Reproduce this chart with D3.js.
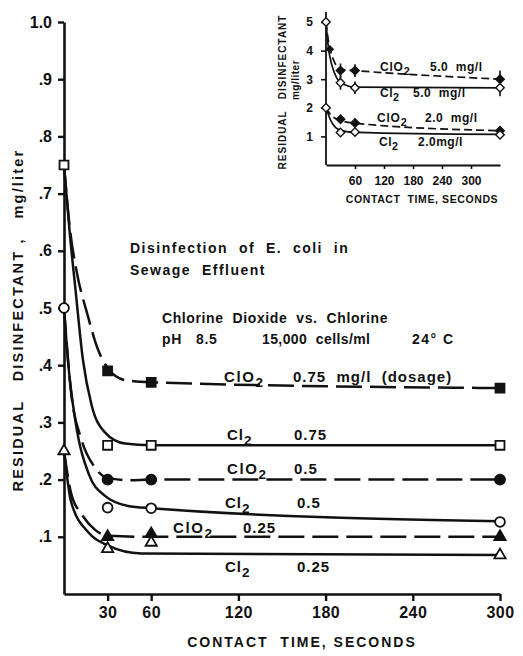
<!DOCTYPE html>
<html>
<head>
<meta charset="utf-8">
<script src="https://cdn.jsdelivr.net/npm/d3@7/dist/d3.min.js"></script>
<style>
  body { margin: 0; background: #fff; }
  svg text { font-family: 'Liberation Sans', Arial, sans-serif; font-weight: bold; fill: #111; white-space: pre; }
</style>
</head>
<body>
<div id="chart"></div>
<script>
// ---- main chart data ----
const yTicks = [0.1, 0.2, 0.3, 0.4, 0.5, 0.6, 0.7, 0.8, 0.9, 1.0];
const yTickLabels = [".1", ".2", ".3", ".4", ".5", ".6", ".7", ".8", ".9", "1.0"];
const xTicks = [30, 60, 120, 180, 240, 300];

// starting dosages, plotted at t = 0 (open markers)
const doses = [0.75, 0.5, 0.25];

// measured points at 30, 60, 300 s
const markTimes = [30, 60, 300];
const clo2_075Marks = [0.39, 0.37, 0.36];
const cl2_075Marks = [0.26, 0.26, 0.26];
const clo2_05Marks = [0.2, 0.2, 0.2];
const cl2_05Marks = [0.151, 0.15, 0.126];
const clo2_025Marks = [0.1, 0.105, 0.1];
const cl2_025Marks = [0.079, 0.09, 0.068];

// hand-fitted curves [time, mg/l]
const clo2_075Fit = [[0, 0.75], [4, 0.64], [9, 0.56], [16, 0.49], [23, 0.43], [30, 0.395], [42, 0.374], [60, 0.37], [300, 0.36]];
const cl2_075Fit = [[0, 0.75], [4, 0.63], [8, 0.53], [13, 0.41], [19, 0.33], [28, 0.283], [42, 0.263], [60, 0.26], [300, 0.26]];
const clo2_05Fit = [[0, 0.5], [5, 0.35], [12, 0.27], [21, 0.222], [30, 0.203], [45, 0.199], [60, 0.2], [300, 0.2]];
const cl2_05Fit = [[0, 0.5], [3, 0.4], [8, 0.3], [17, 0.21], [28, 0.172], [44, 0.154], [60, 0.15], [300, 0.127]];
const clo2_025Fit = [[0, 0.25], [5, 0.175], [12, 0.14], [21, 0.113], [30, 0.102], [60, 0.1], [300, 0.1]];
const cl2_025Fit = [[0, 0.25], [5, 0.16], [17, 0.107], [30, 0.085], [53, 0.071], [300, 0.068]];

// ---- inset data ----
const insetYTicks = [1, 2, 3, 4, 5];
const insetXTicks = [60, 120, 180, 240, 300];
const insetDoses = [5, 2];
const insetTimes = [30, 60, 360];
const clo2_5Marks = [3.3, 3.3, 3.0];
const cl2_5Marks = [2.88, 2.7, 2.7];
const clo2_2Marks = [1.6, 1.47, 1.2];
const cl2_2Marks = [1.14, 1.15, 1.06];
const err5 = [0.25, 0.22, 0.3];
const clo2_5Early = [[8, 4.05]];

const clo2_5Fit = [[0, 5], [4, 4.45], [9, 4.02], [18, 3.58], [30, 3.34], [60, 3.3], [360, 3.0]];
const cl2_5Fit = [[0, 5], [5, 4.1], [12, 3.5], [22, 3.05], [36, 2.82], [60, 2.72], [360, 2.7]];
const clo2_2Fit = [[0, 2], [10, 1.75], [30, 1.56], [60, 1.46], [360, 1.2]];
const cl2_2Fit = [[0, 2], [10, 1.55], [25, 1.25], [45, 1.16], [60, 1.14], [360, 1.07]];

const W = 523, H = 656;
const svg = d3.select("#chart").append("svg")
    .attr("width", W)
    .attr("height", H);
svg.append("rect").attr("width", W).attr("height", H).attr("fill", "#fff");

// scales
const x = d3.scaleLinear().domain([0, 300]).range([64, 500]);
const y = d3.scaleLinear().domain([0, 1]).range([594, 22]);

// axes
const yAxis = d3.axisLeft(y)
    .tickValues(yTicks)
    .tickFormat((d, i) => yTickLabels[i])
    .tickSize(6)
    .tickSizeOuter(0)
    .tickPadding(6);
const gy = svg.append("g")
    .attr("transform", "translate(" + x(0) + ",0)")
    .call(yAxis);

const xAxis = d3.axisBottom(x)
    .tickValues(xTicks)
    .tickSize(7)
    .tickSizeOuter(0)
    .tickPadding(6);
const gx = svg.append("g")
    .attr("transform", "translate(0," + y(0) + ")")
    .call(xAxis);

[gx, gy].forEach(g => {
    g.select(".domain").attr("stroke", "#111").attr("stroke-width", 2.6);
    g.selectAll(".tick line").attr("stroke", "#111").attr("stroke-width", 2.4);
    g.selectAll(".tick text").attr("fill", "#111")
        .style("font-size", "16px").style("font-family", "'Liberation Sans', Arial, sans-serif")
        .style("font-weight", "bold");
});
gx.selectAll(".tick text").style("letter-spacing", "0.5px");

// axis titles
svg.append("text")
    .attr("x", 302)
    .attr("y", 647)
    .attr("text-anchor", "middle")
    .style("font-size", "14px")
    .style("letter-spacing", "2px")
    .text("CONTACT  TIME, SECONDS");

svg.append("text")
    .attr("transform", "translate(23,320) rotate(-90)")
    .attr("text-anchor", "middle")
    .style("font-size", "14.5px")
    .style("letter-spacing", "2.2px")
    .text("RESIDUAL   DISINFECTANT ,   mg/liter");

// curves
const line = d3.line()
    .x(d => x(d[0]))
    .y(d => y(d[1]))
    .curve(d3.curveMonotoneX);

const mainCurves = [
    { fit: clo2_075Fit, dashed: true },
    { fit: cl2_075Fit, dashed: false },
    { fit: clo2_05Fit, dashed: true },
    { fit: cl2_05Fit, dashed: false },
    { fit: clo2_025Fit, dashed: true },
    { fit: cl2_025Fit, dashed: false }
];
svg.append("g").selectAll("path")
    .data(mainCurves)
    .enter().append("path")
    .attr("d", d => line(d.fit))
    .attr("fill", "none")
    .attr("stroke", "#111")
    .attr("stroke-width", 2.5)
    .attr("stroke-dasharray", d => d.dashed ? "26,8" : null);

// markers
const mainMarks = [
    { vals: clo2_075Marks, type: d3.symbolSquare, size: 80, filled: true },
    { vals: cl2_075Marks, type: d3.symbolSquare, size: 80, filled: false },
    { vals: clo2_05Marks, type: d3.symbolCircle, size: 80, filled: true },
    { vals: cl2_05Marks, type: d3.symbolCircle, size: 75, filled: false },
    { vals: clo2_025Marks, type: d3.symbolTriangle, size: 55, filled: true },
    { vals: cl2_025Marks, type: d3.symbolTriangle, size: 55, filled: false }
];
const startMarks = [
    { v: doses[0], type: d3.symbolSquare, size: 80 },
    { v: doses[1], type: d3.symbolCircle, size: 75 },
    { v: doses[2], type: d3.symbolTriangle, size: 55 }
];

const gm = svg.append("g");
mainMarks.forEach(s => {
    gm.selectAll(null)
        .data(s.vals)
        .enter().append("path")
        .attr("transform", (d, i) => "translate(" + x(markTimes[i]) + "," + y(d) + ")")
        .attr("d", d3.symbol().type(s.type).size(s.size))
        .attr("fill", s.filled ? "#111" : "#fff")
        .attr("stroke", "#111")
        .attr("stroke-width", 1.8);
});
gm.selectAll(null)
    .data(startMarks)
    .enter().append("path")
    .attr("transform", d => "translate(" + x(0) + "," + y(d.v) + ")")
    .attr("d", d => d3.symbol().type(d.type).size(d.size)())
    .attr("fill", "#fff")
    .attr("stroke", "#111")
    .attr("stroke-width", 1.8);

// curve labels, with subscripts
function chemLabel(g, px, py, base, sub, size, ls) {
    const t = g.append("text").attr("x", px).attr("y", py)
        .style("font-size", size + "px").style("letter-spacing", (ls || 1) + "px");
    t.append("tspan").text(base);
    t.append("tspan").attr("dy", size * 0.3).style("font-size", (size * 0.9) + "px").text(sub);
    return t;
}
function plain(g, px, py, str, size, ls) {
    return g.append("text").attr("x", px).attr("y", py)
        .style("font-size", size + "px").style("letter-spacing", (ls || 1) + "px").text(str);
}

const gl = svg.append("g");
chemLabel(gl, 224, 382, "ClO", "2", 15, 1.6);
plain(gl, 293, 382, "0.75  mg/l  (dosage)", 15, 1);
chemLabel(gl, 227, 440, "Cl", "2", 15, 1);
plain(gl, 294, 440, "0.75", 15, 1);
chemLabel(gl, 227, 474, "ClO", "2", 15, 1.6);
plain(gl, 294, 474, "0.5", 15, 1);
chemLabel(gl, 225, 508, "Cl", "2", 15, 1);
plain(gl, 297, 508, "0.5", 15, 1);
chemLabel(gl, 173, 533, "ClO", "2", 15, 1.6);
plain(gl, 243, 533, "0.25", 15, 1);
chemLabel(gl, 225, 572, "Cl", "2", 15, 1);
plain(gl, 297, 572, "0.25", 15, 1);

// description block
plain(gl, 130, 253, "Disinfection  of  E.  coli  in", 14, 1.5);
plain(gl, 130, 275, "Sewage  Effluent", 14, 1.5);
plain(gl, 162, 323, "Chlorine  Dioxide  vs.  Chlorine", 14, 0.6);
plain(gl, 162, 344, "pH", 14, 0.6);
plain(gl, 196, 344, "8.5", 14, 0.6);
plain(gl, 262, 344, "15,000  cells/ml", 14, 0.4);
plain(gl, 412, 344, "24° C", 14, 1.5);

// ---- inset ----
const xi = d3.scaleLinear().domain([0, 360]).range([326, 500]);
const yi = d3.scaleLinear().domain([0, 5]).range([165, 22]);
const gi = svg.append("g");

const giy = gi.append("g")
    .attr("transform", "translate(" + xi(0) + ",0)")
    .call(d3.axisLeft(yi).tickValues(insetYTicks).tickFormat(d3.format("d"))
        .tickSize(5).tickSizeOuter(0).tickPadding(8));
// y axis line reaches just above the top point
giy.select(".domain").attr("d", "M0," + yi(0) + "V" + yi(5.35));
const gix = gi.append("g")
    .attr("transform", "translate(0," + yi(0) + ")")
    .call(d3.axisBottom(xi).tickValues(insetXTicks).tickFormat(d3.format("d"))
        .tickSize(4).tickSizeOuter(0).tickPadding(7));
[gix, giy].forEach(g => {
    g.select(".domain").attr("stroke", "#111").attr("stroke-width", 1.8);
    g.selectAll(".tick line").attr("stroke", "#111").attr("stroke-width", 1.6);
    g.selectAll(".tick text").attr("fill", "#111")
        .style("font-size", "12px").style("font-family", "'Liberation Sans', Arial, sans-serif")
        .style("font-weight", "bold");
});

gi.append("text")
    .attr("x", 422).attr("y", 203)
    .attr("text-anchor", "middle")
    .style("font-size", "10.5px").style("letter-spacing", "0.6px")
    .text("CONTACT  TIME, SECONDS");
gi.append("text")
    .attr("transform", "translate(286,92) rotate(-90)")
    .attr("text-anchor", "middle")
    .style("font-size", "10px").style("letter-spacing", "1px")
    .text("RESIDUAL   DISINFECTANT");
gi.append("text")
    .attr("transform", "translate(299,80) rotate(-90)")
    .attr("text-anchor", "middle")
    .style("font-size", "10px").style("letter-spacing", "0.5px")
    .text("mg/liter");

const linei = d3.line()
    .x(d => xi(d[0]))
    .y(d => yi(d[1]))
    .curve(d3.curveMonotoneX);
const insetCurves = [
    { fit: clo2_5Fit, dashed: true },
    { fit: cl2_5Fit, dashed: false },
    { fit: clo2_2Fit, dashed: true },
    { fit: cl2_2Fit, dashed: false }
];
gi.append("g").selectAll("path")
    .data(insetCurves)
    .enter().append("path")
    .attr("d", d => linei(d.fit))
    .attr("fill", "none")
    .attr("stroke", "#111")
    .attr("stroke-width", 1.7)
    .attr("stroke-dasharray", d => d.dashed ? "8,4" : null);

// error bars on the 5.0 mg/l series
[clo2_5Marks, cl2_5Marks].forEach(vals => {
    gi.selectAll(null)
        .data(vals)
        .enter().append("line")
        .attr("x1", (d, i) => xi(insetTimes[i]))
        .attr("x2", (d, i) => xi(insetTimes[i]))
        .attr("y1", (d, i) => yi(d + err5[i]))
        .attr("y2", (d, i) => yi(d - err5[i]))
        .attr("stroke", "#111")
        .attr("stroke-width", 1.6);
});

const diamond = d3.symbol().type(d3.symbolSquare).size(36);
const insetMarks = [
    { vals: clo2_5Marks, filled: true },
    { vals: cl2_5Marks, filled: false },
    { vals: clo2_2Marks, filled: true },
    { vals: cl2_2Marks, filled: false }
];
insetMarks.forEach(s => {
    gi.selectAll(null)
        .data(s.vals)
        .enter().append("path")
        .attr("transform", (d, i) => "translate(" + xi(insetTimes[i]) + "," + yi(d) + ") rotate(45)")
        .attr("d", diamond)
        .attr("fill", s.filled ? "#111" : "#fff")
        .attr("stroke", "#111")
        .attr("stroke-width", 1.4);
});
gi.selectAll(null)
    .data(clo2_5Early)
    .enter().append("path")
    .attr("transform", d => "translate(" + xi(d[0]) + "," + yi(d[1]) + ") rotate(45)")
    .attr("d", diamond)
    .attr("fill", "#111");
gi.selectAll(null)
    .data(insetDoses)
    .enter().append("path")
    .attr("transform", d => "translate(" + xi(0) + "," + yi(d) + ") rotate(45)")
    .attr("d", diamond)
    .attr("fill", "#fff")
    .attr("stroke", "#111")
    .attr("stroke-width", 1.4);

chemLabel(gi, 380, 71, "ClO", "2", 12, 0.8);
plain(gi, 430, 71, "5.0  mg/l", 12, 0.5);
chemLabel(gi, 380, 97, "Cl", "2", 12, 0.5);
plain(gi, 413, 97, "5.0  mg/l", 12, 0.5);
chemLabel(gi, 377, 122, "ClO", "2", 12, 0.8);
plain(gi, 425, 122, "2.0  mg/l", 12, 0.5);
chemLabel(gi, 379, 146, "Cl", "2", 12, 0.5);
plain(gi, 418, 146, "2.0mg/l", 12, 0.5);
</script>
</body>
</html>
